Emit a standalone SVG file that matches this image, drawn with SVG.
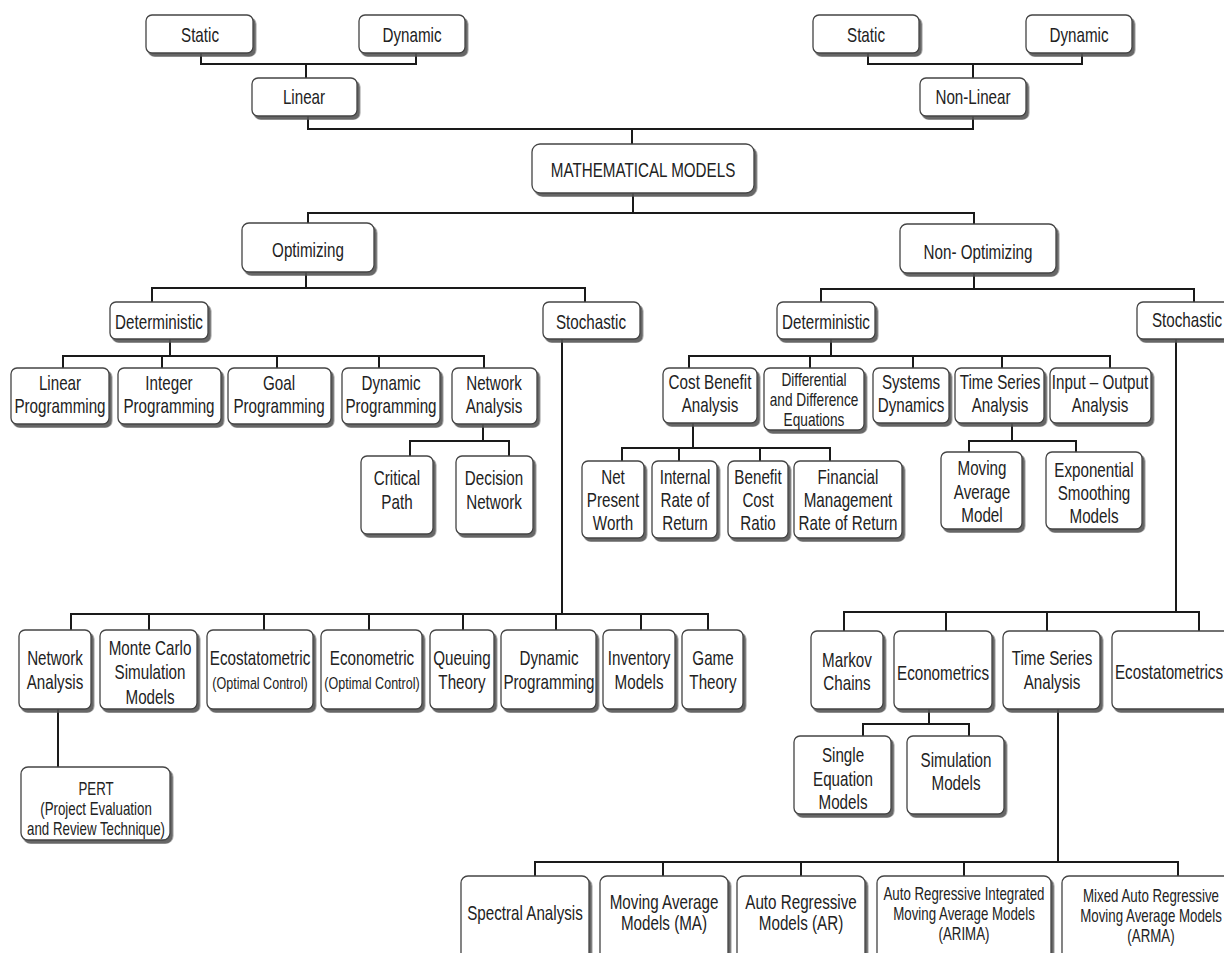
<svg xmlns="http://www.w3.org/2000/svg" width="1224" height="953" viewBox="0 0 1224 953">
<defs>
<filter id="ds" x="-10%" y="-10%" width="125%" height="130%">
<feDropShadow dx="2.5" dy="3" stdDeviation="0.7" flood-color="#555" flood-opacity="0.9"/>
</filter>
<style>
rect.b{fill:#fff;stroke:#444;stroke-width:1.3;filter:url(#ds)}
text{font-family:"Liberation Sans Narrow","Arial Narrow","Liberation Sans",sans-serif;font-size:20px;fill:#222;text-anchor:middle;transform-box:fill-box;transform-origin:50% 50%;transform:translateY(1px) scaleX(0.76)}
.s17{font-size:17.5px}
.s16{font-size:16.5px}
.s18{font-size:18px}
#connectors path{fill:none;stroke:#1a1a1a;stroke-width:2}
</style>
</defs>
<rect width="1224" height="953" fill="#fff"/>
<g id="connectors">
<path d="M201,53V64H416V53M306,64V78"/>
<path d="M868,53V64H1082V53M973,64V78"/>
<path d="M308,116V129H973V116M632,129V144"/>
<path d="M633,193V213M308,223V213H974V224"/>
<path d="M306,272V288M152,302V288H585V302"/>
<path d="M974,273V289M821,302V289H1194V302"/>
<path d="M170,339V356M63,368V356H484V368M162,356V368M277,356V368M379,356V368"/>
<path d="M483,424V441M410,456V441H509V456"/>
<path d="M562,339V614M71,630V614H708V630M149,614V630M264,614V630M369,614V630M463,614V630M556,614V630M641,614V630"/>
<path d="M58,709V767"/>
<path d="M831,339V356M689,368V356H1110V368M810,356V368M913,356V368M1002,356V368"/>
<path d="M693,423V448M622,461V448H830V461M679,448V461M760,448V461"/>
<path d="M1012,423V441M969,452V441H1076V452"/>
<path d="M1176,339V612M844,631V612H1199V631M946,612V631M1047,612V631"/>
<path d="M929,709V724M863,736V724H969V736"/>
<path d="M1058,709V862M535,876V862H1178V876M663,862V876M801,862V876M964,862V876"/>
</g>
<g id="staticL"><rect class="b" x="146" y="15" width="107" height="38" rx="6"/><text x="200" y="41">Static</text></g>
<g id="dynamicL"><rect class="b" x="359" y="15" width="106" height="38" rx="6"/><text x="412" y="41">Dynamic</text></g>
<g id="linear"><rect class="b" x="252" y="78" width="105" height="38" rx="6"/><text x="304" y="103">Linear</text></g>
<g id="staticR"><rect class="b" x="813" y="15" width="106" height="38" rx="6"/><text x="866" y="41">Static</text></g>
<g id="dynamicR"><rect class="b" x="1026" y="15" width="106" height="38" rx="6"/><text x="1079" y="41">Dynamic</text></g>
<g id="nonLinear"><rect class="b" x="920" y="78" width="106" height="38" rx="6"/><text x="973" y="103">Non-Linear</text></g>
<g id="math"><rect class="b" x="532" y="144" width="222" height="49" rx="8"/><text x="643" y="176">MATHEMATICAL MODELS</text></g>
<g id="optimizing"><rect class="b" x="242" y="223" width="132" height="49" rx="7"/><text x="308" y="256">Optimizing</text></g>
<g id="nonOptimizing"><rect class="b" x="900" y="224" width="156" height="49" rx="7"/><text x="978" y="258">Non- Optimizing</text></g>
<g id="deterministicL"><rect class="b" x="110" y="302" width="98" height="37" rx="6"/><text x="159" y="328">Deterministic</text></g>
<g id="stochasticL"><rect class="b" x="543" y="302" width="97" height="37" rx="6"/><text x="591" y="328">Stochastic</text></g>
<g id="deterministicR"><rect class="b" x="777" y="302" width="98" height="37" rx="6"/><text x="826" y="328">Deterministic</text></g>
<g id="stochasticR"><rect class="b" x="1137" y="302" width="100" height="37" rx="6"/><text x="1187" y="326">Stochastic</text></g>
<g id="linearProgramming"><rect class="b" x="11" y="368" width="98" height="56" rx="6"/><text x="60" y="389">Linear</text><text x="60" y="412">Programming</text></g>
<g id="integerProgramming"><rect class="b" x="118" y="368" width="103" height="56" rx="6"/><text x="169" y="389">Integer</text><text x="169" y="412">Programming</text></g>
<g id="goalProgramming"><rect class="b" x="228" y="368" width="103" height="56" rx="6"/><text x="279" y="389">Goal</text><text x="279" y="412">Programming</text></g>
<g id="dynamicProgramming"><rect class="b" x="342" y="368" width="98" height="56" rx="6"/><text x="391" y="389">Dynamic</text><text x="391" y="412">Programming</text></g>
<g id="networkAnalysis"><rect class="b" x="452" y="368" width="85" height="56" rx="6"/><text x="494" y="389">Network</text><text x="494" y="412">Analysis</text></g>
<g id="criticalPath"><rect class="b" x="361" y="456" width="72" height="78" rx="6"/><text x="397" y="484">Critical</text><text x="397" y="508">Path</text></g>
<g id="decisionNetwork"><rect class="b" x="456" y="456" width="77" height="78" rx="6"/><text x="494" y="484">Decision</text><text x="494" y="508">Network</text></g>
<g id="costBenefit"><rect class="b" x="663" y="368" width="94" height="55" rx="6"/><text x="710" y="388">Cost Benefit</text><text x="710" y="411">Analysis</text></g>
<g id="differential"><rect class="b" x="764" y="368" width="100" height="62" rx="6"/><text class="s18" x="814" y="385">Differential</text><text class="s18" x="814" y="405">and Difference</text><text class="s18" x="814" y="425">Equations</text></g>
<g id="systemsDynamics"><rect class="b" x="873" y="368" width="76" height="55" rx="6"/><text x="911" y="388">Systems</text><text x="911" y="411">Dynamics</text></g>
<g id="timeSeriesR1"><rect class="b" x="955" y="368" width="89" height="55" rx="6"/><text x="1000" y="388">Time Series</text><text x="1000" y="411">Analysis</text></g>
<g id="inputOutput"><rect class="b" x="1050" y="368" width="101" height="55" rx="6"/><text x="1100" y="388">Input – Output</text><text x="1100" y="411">Analysis</text></g>
<g id="netPresentWorth"><rect class="b" x="582" y="461" width="62" height="77" rx="6"/><text x="613" y="483">Net</text><text x="613" y="506">Present</text><text x="613" y="529">Worth</text></g>
<g id="internalRate"><rect class="b" x="652" y="461" width="65" height="77" rx="6"/><text x="685" y="483">Internal</text><text x="685" y="506">Rate of</text><text x="685" y="529">Return</text></g>
<g id="benefitCost"><rect class="b" x="728" y="461" width="60" height="77" rx="6"/><text x="758" y="483">Benefit</text><text x="758" y="506">Cost</text><text x="758" y="529">Ratio</text></g>
<g id="financialMgmt"><rect class="b" x="794" y="461" width="108" height="77" rx="6"/><text x="848" y="483">Financial</text><text x="848" y="506">Management</text><text x="848" y="529">Rate of Return</text></g>
<g id="movingAverageModel"><rect class="b" x="941" y="452" width="81" height="77" rx="6"/><text x="982" y="474">Moving</text><text x="982" y="498">Average</text><text x="982" y="521">Model</text></g>
<g id="exponentialSmoothing"><rect class="b" x="1046" y="452" width="96" height="77" rx="6"/><text x="1094" y="476">Exponential</text><text x="1094" y="499">Smoothing</text><text x="1094" y="522">Models</text></g>
<g id="networkAnalysis2"><rect class="b" x="19" y="630" width="72" height="79" rx="6"/><text x="55" y="664">Network</text><text x="55" y="688">Analysis</text></g>
<g id="monteCarlo"><rect class="b" x="100" y="630" width="97" height="79" rx="6"/><text x="150" y="654">Monte Carlo</text><text x="150" y="678">Simulation</text><text x="150" y="703">Models</text></g>
<g id="ecostatometricOC"><rect class="b" x="207" y="630" width="106" height="79" rx="6"/><text x="260" y="664">Ecostatometric</text><text class="s16" x="260" y="688">(Optimal Control)</text></g>
<g id="econometricOC"><rect class="b" x="321" y="630" width="101" height="79" rx="6"/><text x="372" y="664">Econometric</text><text class="s16" x="372" y="688">(Optimal Control)</text></g>
<g id="queuingTheory"><rect class="b" x="430" y="630" width="64" height="79" rx="6"/><text x="462" y="664">Queuing</text><text x="462" y="688">Theory</text></g>
<g id="dynamicProgramming2"><rect class="b" x="501" y="630" width="95" height="79" rx="6"/><text x="549" y="664">Dynamic</text><text x="549" y="688">Programming</text></g>
<g id="inventoryModels"><rect class="b" x="603" y="630" width="72" height="79" rx="6"/><text x="639" y="664">Inventory</text><text x="639" y="688">Models</text></g>
<g id="gameTheory"><rect class="b" x="682" y="630" width="61" height="79" rx="6"/><text x="713" y="664">Game</text><text x="713" y="688">Theory</text></g>
<g id="pert"><rect class="b" x="21" y="767" width="149" height="73" rx="7"/><text class="s17" x="96" y="794">PERT</text><text class="s17" x="96" y="814">(Project Evaluation</text><text class="s17" x="96" y="834">and Review Technique)</text></g>
<g id="markovChains"><rect class="b" x="811" y="631" width="72" height="78" rx="6"/><text x="847" y="666">Markov</text><text x="847" y="689">Chains</text></g>
<g id="econometrics"><rect class="b" x="894" y="631" width="98" height="78" rx="6"/><text x="943" y="679">Econometrics</text></g>
<g id="timeSeriesR2"><rect class="b" x="1003" y="631" width="97" height="78" rx="6"/><text x="1052" y="664">Time Series</text><text x="1052" y="688">Analysis</text></g>
<g id="ecostatometrics"><rect class="b" x="1112" y="631" width="130" height="78" rx="6"/><text x="1169" y="678">Ecostatometrics</text></g>
<g id="singleEquation"><rect class="b" x="794" y="736" width="97" height="78" rx="6"/><text x="843" y="761">Single</text><text x="843" y="785">Equation</text><text x="843" y="808">Models</text></g>
<g id="simulationModels"><rect class="b" x="907" y="736" width="97" height="78" rx="6"/><text x="956" y="766">Simulation</text><text x="956" y="789">Models</text></g>
<g id="spectralAnalysis"><rect class="b" x="461" y="876" width="128" height="90" rx="7"/><text x="525" y="919">Spectral Analysis</text></g>
<g id="movingAverageMA"><rect class="b" x="600" y="876" width="128" height="90" rx="7"/><text x="664" y="908">Moving Average</text><text x="664" y="929">Models (MA)</text></g>
<g id="autoRegressiveAR"><rect class="b" x="737" y="876" width="128" height="90" rx="7"/><text x="801" y="908">Auto Regressive</text><text x="801" y="929">Models (AR)</text></g>
<g id="arima"><rect class="b" x="877" y="876" width="174" height="90" rx="7"/><text class="s17" x="964" y="899">Auto Regressive Integrated</text><text class="s17" x="964" y="919">Moving Average Models</text><text class="s17" x="964" y="939">(ARIMA)</text></g>
<g id="arma"><rect class="b" x="1062" y="876" width="180" height="90" rx="7"/><text class="s17" x="1151" y="901">Mixed Auto Regressive</text><text class="s17" x="1151" y="921">Moving Average Models</text><text class="s17" x="1151" y="941">(ARMA)</text></g>
</svg>
